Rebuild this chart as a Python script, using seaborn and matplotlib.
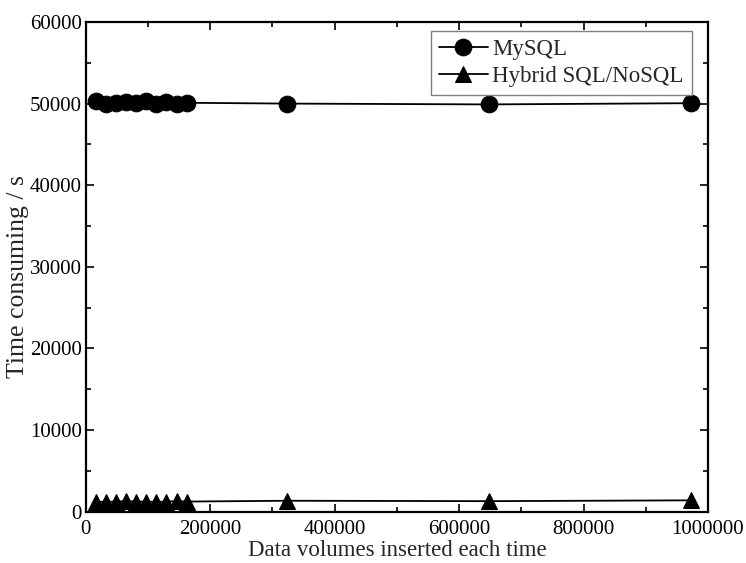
import matplotlib
matplotlib.use("Agg")
import matplotlib.pyplot as plt
import seaborn as sns
import pandas as pd
from matplotlib.ticker import MultipleLocator, FuncFormatter

x_values = [16200, 32400, 48600, 64800, 81000, 97200, 113400, 129600, 145800, 162000,
            324000, 648000, 972000]
mysql_time = [50300, 49900, 50100, 50150, 50050, 50300, 49950, 50150, 49950, 50100,
              50000, 49900, 50050]
hybrid_time = [1250, 1200, 1250, 1300, 1250, 1250, 1200, 1250, 1300, 1250,
               1350, 1300, 1400]
series_names = ["MySQL", "Hybrid SQL/NoSQL"]

df = pd.DataFrame({
    "x": x_values * 2,
    "y": mysql_time + hybrid_time,
    "series": [series_names[0]] * len(x_values) + [series_names[1]] * len(x_values),
})

sns.set_theme(style="ticks")
plt.rcParams["font.family"] = ["Liberation Serif", "DejaVu Serif"]

fig = plt.figure(figsize=(7.46, 5.63), dpi=100)
ax = fig.add_axes([0.115, 0.091, 0.834, 0.870])

sns.lineplot(data=df, x="x", y="y", hue="series", style="series",
             palette=["black", "black"], markers=["o", "^"], dashes=False,
             markersize=12, linewidth=1.3, markeredgecolor="black",
             hue_order=series_names, style_order=series_names, ax=ax)

ax.set_xlim(0, 1000000)
ax.set_ylim(0, 60000)
ax.xaxis.set_major_locator(MultipleLocator(200000))
ax.xaxis.set_minor_locator(MultipleLocator(100000))
ax.yaxis.set_major_locator(MultipleLocator(10000))
ax.yaxis.set_minor_locator(MultipleLocator(5000))
fmt = FuncFormatter(lambda v, p: f"{int(round(v))}")
ax.xaxis.set_major_formatter(fmt)
ax.yaxis.set_major_formatter(fmt)
ax.tick_params(which="both", direction="in", top=True, right=True, width=1.2,
               labelsize=15, colors="black")
ax.tick_params(which="major", length=6)
ax.tick_params(which="minor", length=3.5)
ax.tick_params(axis="x", which="major", pad=6)
ax.tick_params(axis="y", which="major", pad=3)
for s in ax.spines.values():
    s.set_linewidth(1.6)
    s.set_color("black")

ax.set_xlabel("Data volumes inserted each time", fontsize=16.5, labelpad=1)
ax.set_ylabel("Time consuming / s", fontsize=18.5)
ax.yaxis.set_label_coords(-0.091, 0.48)

leg = ax.legend(loc="upper right", bbox_to_anchor=(0.974, 0.982), fontsize=16.5,
                frameon=True, fancybox=False, edgecolor="gray", handlelength=2.15,
                borderpad=0.35, labelspacing=0.25, handletextpad=0.2,
                borderaxespad=0.0)
leg.get_frame().set_linewidth(1.0)
leg.get_frame().set_alpha(1)

fig.savefig("out.png", dpi=100)
